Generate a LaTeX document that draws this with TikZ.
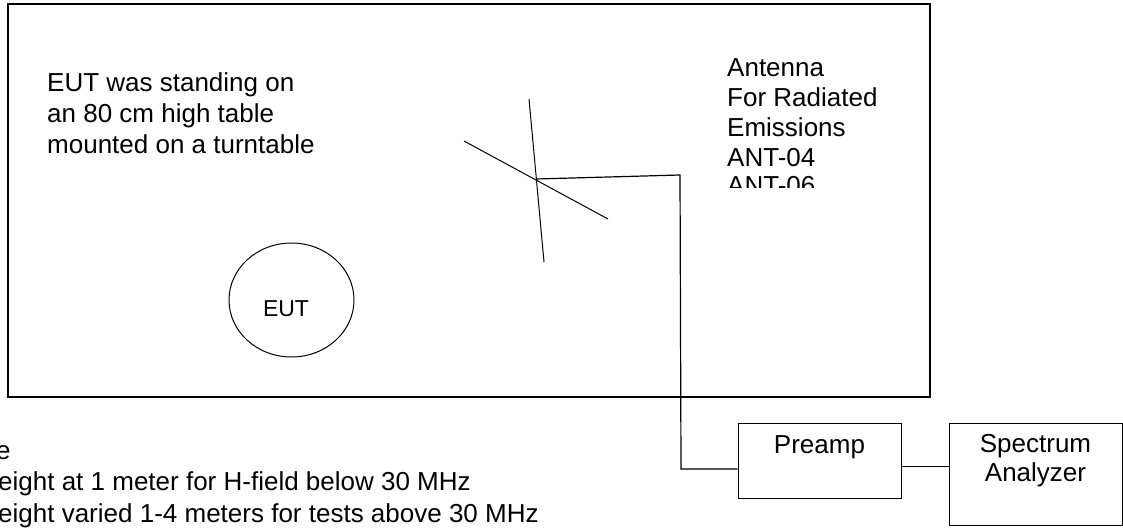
\documentclass[tikz,border=0pt]{standalone}
\usepackage{fontspec}
\setmainfont{Liberation Sans}
\usetikzlibrary{shapes.geometric}
\begin{document}
\begin{tikzpicture}[x=1pt,y=-1pt,
  lbl/.style={font=\fontsize{26}{30}\selectfont, inner sep=0pt, anchor=base west},
  clbl/.style={font=\fontsize{26}{30}\selectfont, inner sep=0pt, anchor=base},
  boxnode/.style={draw, line width=1pt, inner sep=0pt},
  wire/.style={line width=1.2pt},
  ant/.style={line width=1pt}]
\useasboundingbox (0,0) rectangle (1123,527);
\clip (0,0) rectangle (1123,527);
% room
\node[boxnode, line width=1.6pt, minimum width=922pt, minimum height=393pt] (room) at (469,200.5) {};
% left text
\node[lbl] (d1) at (47,91) {EUT was standing on};
\node[lbl] (d2) at (47,122) {an 80 cm high table};
\node[lbl] (d3) at (47,153) {mounted on a turntable};
% EUT
\node[boxnode, ellipse, minimum width=125pt, minimum height=114pt] (eut) at (291.5,300) {};
\node[font=\fontsize{23}{27}\selectfont, inner sep=0pt, anchor=base] (eutl) at (286,316) {EUT};
% antenna
\coordinate (a1s) at (529,99);
\coordinate (a1e) at (544,262);
\coordinate (a2s) at (464,141);
\coordinate (a2e) at (608,219);
\coordinate (X) at (536,179);
\draw[ant] (a1s) -- (a1e);
\draw[ant] (a2s) -- (a2e);
% antenna text
\node[lbl] (n1) at (727,76) {Antenna};
\node[lbl] (n2) at (727,106) {For Radiated};
\node[lbl] (n3) at (727,136) {Emissions};
\node[lbl] (n4) at (727,166) {ANT-04};
\begin{scope}
\clip (700,0) rectangle (930,187);
\node[lbl] (n5) at (727,194) {ANT-06};
\end{scope}
% equipment
\node[boxnode, minimum width=163pt, minimum height=75pt] (pre) at (819.5,460.5) {};
\node[clbl] (prel) at (819.5,453) {Preamp};
\node[boxnode, minimum width=173pt, minimum height=102pt] (sa) at (1035.5,474) {};
\node[clbl] (sal1) at (1035.5,452) {Spectrum};
\node[clbl] (sal2) at (1035.5,481) {Analyzer};
% cable
\coordinate (c1) at (680,175);
\coordinate (c2) at (681,469);
\draw[wire] (X) -- (c1) -- (c2) -- (c2 -| pre.west);
\coordinate (c3) at (901,466);
\draw[line width=1pt] (c3 -| pre.east) -- (c3 -| sa.west);
% bottom notes
\node[lbl] (b1) at (-4,459) {e};
\node[lbl] (b2) at (-2,490) {eight at 1 meter for H-field below 30 MHz};
\node[lbl] (b3) at (-2,522) {eight varied 1-4 meters for tests above 30 MHz};
\end{tikzpicture}
\end{document}
